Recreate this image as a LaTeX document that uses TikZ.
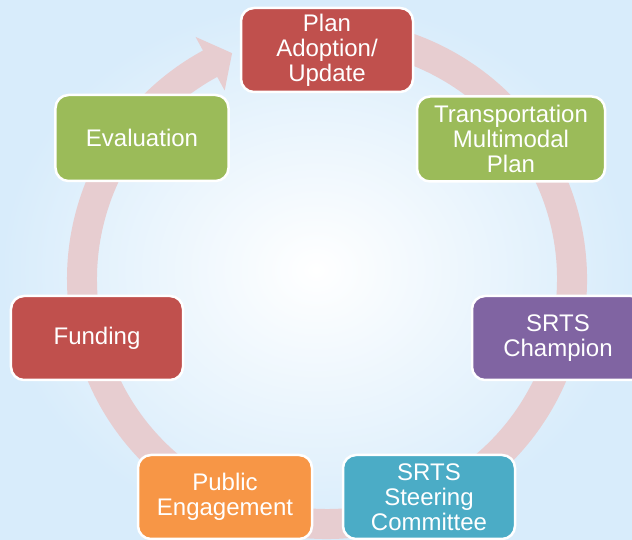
\documentclass[tikz,border=0pt]{standalone}
\usepackage{fontspec}
\setmainfont{Liberation Sans}
\usetikzlibrary{calc}
\definecolor{bgblue}{RGB}{216,236,251}
\definecolor{ringc}{RGB}{231,205,208}
\definecolor{cred}{RGB}{192,80,77}
\definecolor{cgreen}{RGB}{155,187,89}
\definecolor{cpurple}{RGB}{128,100,162}
\definecolor{caqua}{RGB}{75,172,198}
\definecolor{corange}{RGB}{247,150,70}
\tikzset{
  stepbox/.style={draw=white, line width=2.5bp, rounded corners=13bp,
    text=white, align=center, minimum width=172bp, minimum height=84bp,
    inner sep=2bp, font={\fontsize{24bp}{25bp}\selectfont}},
}
\begin{document}
\begin{tikzpicture}[x=1bp,y=1bp]
\clip (0,0) rectangle (632,540);
\shade[inner color=white, outer color=bgblue] (0,0) rectangle (632,540);
\coordinate (C) at (327,261);
% ring with arrowhead
\fill[ringc] ($(C)+(100:260)$) arc[start angle=100, end angle=-241.5, radius=260]
  -- ($(C)+(118.5:275.5)$) -- ($(C)+(112.8:245)$) -- ($(C)+(118.5:214.5)$)
  -- ($(C)+(118.5:230)$) arc[start angle=-241.5, end angle=100, radius=230] -- cycle;
% nodes
\node[stepbox, fill=cred] (plan) at (327,490) {Plan\\Adoption/\\Update};
\node[stepbox, fill=cgreen, minimum width=188bp, minimum height=85bp] (trans) at (511,401) {Transportation\\Multimodal\\Plan};
\node[stepbox, fill=cpurple] (champ) at (558,202) {SRTS\\Champion};
\node[stepbox, fill=caqua] (steer) at (429,43) {SRTS\\Steering\\Committee};
\node[stepbox, fill=corange, minimum width=174bp] (public) at (225,43) {Public\\Engagement};
\node[stepbox, fill=cred] (fund) at (97,202) {Funding};
\node[stepbox, fill=cgreen, minimum width=173bp, minimum height=86bp] (eval) at (142,402) {Evaluation};
\end{tikzpicture}
\end{document}
